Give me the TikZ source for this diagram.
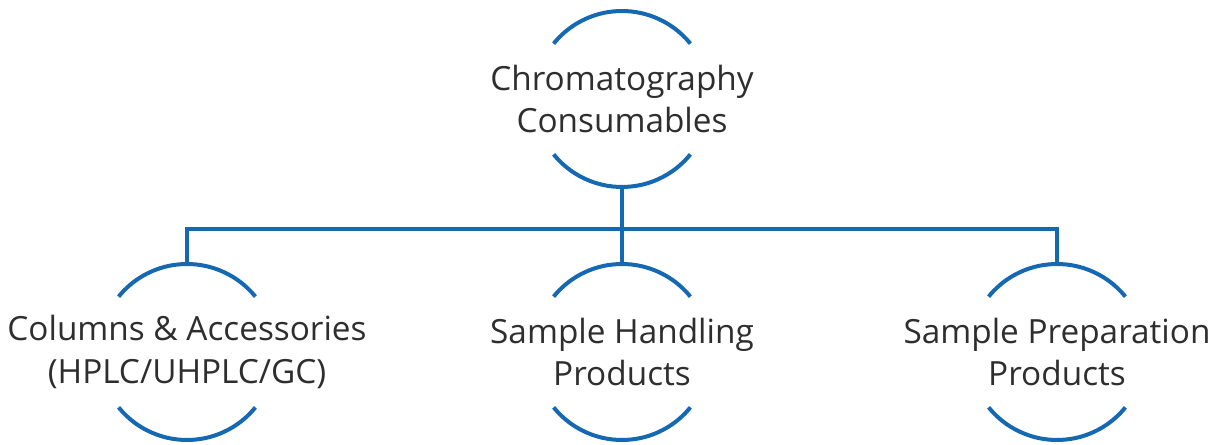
\documentclass[tikz,border=0pt]{standalone}
\usepackage{fontspec}
\setmainfont{Open Sans}
\usetikzlibrary{calc}
\begin{document}
\begin{tikzpicture}[x=0.75pt,y=0.75pt,
  link/.style={draw=blueline,line width=3pt},
  arcs/.style={draw=blueline,line width=3pt},
  label/.style={align=center,text=textgray,font=\fontsize{25}{32}\selectfont,inner sep=0pt}]
\definecolor{blueline}{HTML}{1568B2}
\definecolor{textgray}{HTML}{2E2E2E}
\useasboundingbox (0,0) rectangle (1219,445);
% circle centres (y measured from bottom)
\coordinate (ct) at (622,346);
\coordinate (cl) at (187,93);
\coordinate (cm) at (622,93);
\coordinate (cr) at (1057,93);
\def\R{88}
\foreach \c in {ct,cl,cm,cr}{
  \draw[arcs] (\c) ++(39:\R) arc (39:141:\R);
  \draw[arcs] (\c) ++(219:\R) arc (219:321:\R);
}
\node[label] (top) at (ct) {Chromatography\\Consumables};
\node[label] (left) at (cl) {Columns \& Accessories\\(HPLC/UHPLC/GC)};
\node[label] (mid) at (cm) {Sample Handling\\Products};
\node[label] (right) at (cr) {Sample Preparation\\Products};
\coordinate (bus) at (622,216);
\draw[link] ($(ct)+(0,-\R)$) -- (bus);
\draw[link] ($(cl)+(0,\R)$) |- (bus) -| ($(cr)+(0,\R)$);
\draw[link] (bus) -- ($(cm)+(0,\R)$);
\end{tikzpicture}
\end{document}
